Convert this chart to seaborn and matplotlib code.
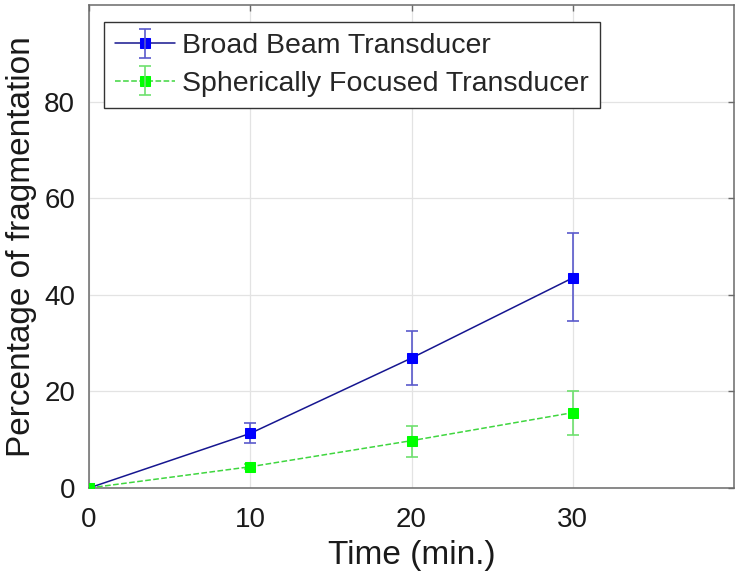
import matplotlib
matplotlib.use("Agg")
import matplotlib.pyplot as plt
import seaborn as sns
import numpy as np
import pandas as pd

# ---- data ----
time_min = [0, 10, 20, 30]
broad_mean = [0.0, 11.3, 26.9, 43.5]
broad_low = [0.0, 9.3, 21.3, 34.5]
broad_high = [0.0, 13.5, 32.5, 52.7]
focused_mean = [0.0, 4.4, 9.8, 15.6]
focused_low = [0.0, 3.9, 6.5, 11.0]
focused_high = [0.0, 4.9, 12.9, 20.1]
series_names = ["Broad Beam Transducer", "Spherically Focused Transducer"]
x_ticks = [0, 10, 20, 30]
y_ticks = [0, 20, 40, 60, 80]

sns.set_style("white")
plt.rcParams["font.family"] = ["Liberation Sans", "DejaVu Sans"]

fig = plt.figure(figsize=(7.38, 5.85), dpi=100)
ax = fig.add_axes([89 / 738, 1 - 488 / 585, (734 - 89) / 738, (488 - 5) / 585])

df = pd.DataFrame({
    "time": time_min * 2,
    "value": broad_mean + focused_mean,
    "series": [series_names[0]] * 4 + [series_names[1]] * 4,
})

line_colors = {series_names[0]: "#161690", series_names[1]: "#3fd63f"}
marker_colors = {series_names[0]: "#0000ff", series_names[1]: "#00ff00"}
err_colors = {series_names[0]: "#5a5acc", series_names[1]: "#6ee06e"}
dashes = {series_names[0]: "-", series_names[1]: "--"}

sns.lineplot(data=df, x="time", y="value", hue="series",
             palette=line_colors, legend=False, ax=ax, lw=1.1, zorder=3)
lines = ax.get_lines()
for ln, name in zip(lines, series_names):
    ln.set_linestyle(dashes[name])
    ln.set_marker("s")
    ln.set_markersize(7.5)
    ln.set_markerfacecolor(marker_colors[name])
    ln.set_markeredgecolor(marker_colors[name])

handles = []
for name, mean, lo, hi in [
    (series_names[0], broad_mean, broad_low, broad_high),
    (series_names[1], focused_mean, focused_low, focused_high),
]:
    m = np.array(mean)
    yerr = [m - np.array(lo), np.array(hi) - m]
    eb = ax.errorbar(time_min, mean, yerr=yerr, fmt="none",
                     ecolor=err_colors[name], elinewidth=1.2,
                     capsize=4.5, capthick=1.2, zorder=2)
    handles.append(eb)

ax.set_xlim(0, 40)
ax.set_ylim(0, 100)
ax.set_xticks(x_ticks)
ax.set_yticks(y_ticks)
ax.grid(True, color="#e3e3e3", lw=0.9)
ax.set_axisbelow(True)
for sp in ax.spines.values():
    sp.set_visible(True)
    sp.set_color("#6a6a6a")
    sp.set_linewidth(1.1)
ax.tick_params(direction="in", length=4, width=1, colors="#6a6a6a",
               top=True, right=True, labelsize=20, labelcolor="#1a1a1a",
               pad=10)
ax.tick_params(axis="x", pad=14)

ax.set_xlabel("Time (min.)", fontsize=24, color="#1a1a1a", labelpad=5)
ax.set_ylabel("Percentage of fragmentation", fontsize=24, color="#1a1a1a",
              labelpad=5)

leg = ax.legend([(lines[0], handles[0]), (lines[1], handles[1])],
                series_names, loc="upper left",
                bbox_to_anchor=(0.023, 0.965), borderaxespad=0,
                fontsize=20.5, frameon=True, fancybox=False,
                edgecolor="#333333", framealpha=1, handlelength=2.1,
                handletextpad=0.25, borderpad=0.4, labelspacing=0.4)
leg.get_frame().set_linewidth(1.0)

fig.savefig("out.png", dpi=100)
